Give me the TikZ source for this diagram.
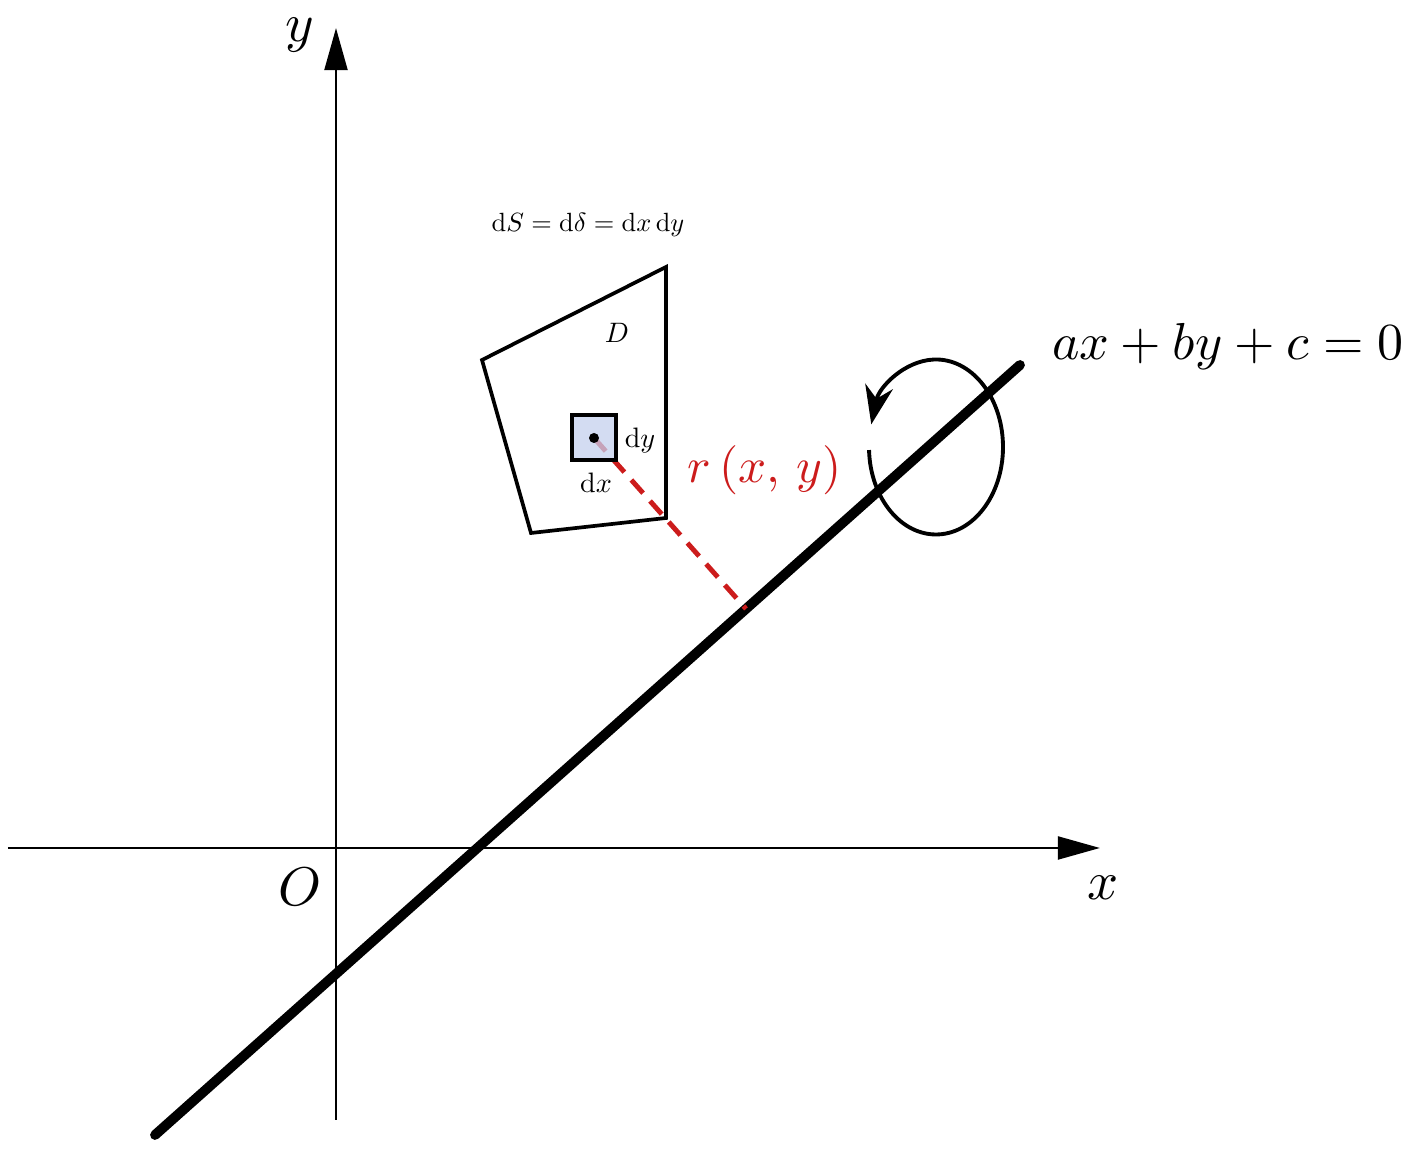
\documentclass[tikz,border=0pt]{standalone}
\usepackage{amsmath}
\usepackage{amssymb}
\usepackage{tikz}
\usepackage{xcolor}
\usetikzlibrary{arrows.meta,positioning,calc}
\definecolor{distred}{RGB}{204,28,28}
\definecolor{cellblue}{RGB}{196,208,238}

\begin{document}
\begin{tikzpicture}[>=Latex,
    axis/.style={line width=0.8pt, -{Triangle[length=12pt,width=6.5pt]}},
    axislabel/.style={scale=1.55},
    smalllabel/.style={scale=0.8}]
  \useasboundingbox (-3.36,-3.02) rectangle (10.81,8.48);
  % axes
  \coordinate (xl) at (-3.28,0);
  \coordinate (xr) at (7.64,0);
  \coordinate (yb) at (0,-2.72);
  \coordinate (yt) at (0,8.20);
  \draw[axis] (xl) -- (xr);
  \draw[axis] (yb) -- (yt);
  \node[axislabel] (xlab) at (7.67,-0.40) {$x$};
  \node[axislabel] (ylab) at (-0.36,8.13) {$y$};
  \node[axislabel] (olab) at (-0.36,-0.39) {$O$};

  % rotation axis
  \coordinate (l1) at (-1.81,-2.87);
  \coordinate (l2) at (6.84,4.83);
  \draw[line width=2.8pt, line cap=round] (l1) -- (l2);
  \node[scale=1.48] (eq) at (8.92,5.01) {$ax + by + c = 0$};

  % region D
  \coordinate (d1) at (1.46,4.88);
  \coordinate (d2) at (3.30,5.81);
  \coordinate (d3) at (3.30,3.30);
  \coordinate (d4) at (1.95,3.15);
  \draw[line width=1.05pt] (d1) -- (d2) -- (d3) -- (d4) -- cycle;
  \node[smalllabel] (dlab) at (2.81,5.15) {$D$};
  \node[scale=0.75] (area) at (2.52,6.23) {$\mathrm{d}S = \mathrm{d}\delta = \mathrm{d}x\,\mathrm{d}y$};

  % distance to the axis
  \coordinate (p) at (2.58,4.10);
  \coordinate (f) at ($(l1)!(p)!(l2)$);
  \draw[distred, line width=1.4pt, dash pattern=on 5pt off 3pt] (p) -- (f);
  \node[text=distred, scale=1.4] (rlab) at (4.29,3.78) {$r\,(x,\,y)$};

  % element dS
  \coordinate (c1) at (2.36,3.88);
  \coordinate (c2) at (2.80,4.33);
  \fill[cellblue, fill opacity=0.75] (c1) rectangle (c2);
  \draw[line width=1.4pt] (c1) rectangle (c2);
  \fill (p) circle (0.05);
  \node[smalllabel] (dylab) at (3.04,4.08) {$\mathrm{d}y$};
  \node[smalllabel] (dxlab) at (2.60,3.65) {$\mathrm{d}x$};

  % rotation
  \coordinate (rc) at (6.00,4.01);
  \draw[line width=1.1pt, -{Stealth[length=11pt,width=8pt]}] (rc) ++(182:0.67 and 0.875)
    arc[start angle=182, end angle=525, x radius=0.67, y radius=0.875];
\end{tikzpicture}
\end{document}
